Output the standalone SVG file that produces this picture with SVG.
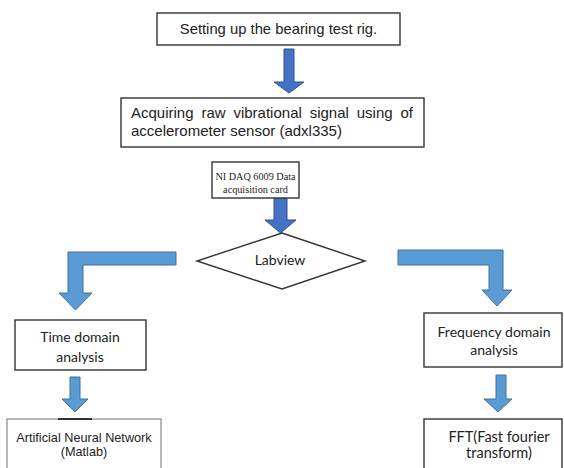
<svg xmlns="http://www.w3.org/2000/svg" width="564" height="468" viewBox="0 0 564 468">
<style>
.box{fill:#fff;stroke:#333;stroke-width:1.4}
.boxg{fill:#fff;stroke:#888;stroke-width:1.2}
.arr1{fill:#4472C4;stroke:#2F528F;stroke-width:1}
.arr2{fill:#5B9BD5;stroke:#41719C;stroke-width:1}
.arial{font-family:"Liberation Sans",Arial,sans-serif;fill:#222}
.cal{font-family:Lato,"Noto Sans",sans-serif;fill:#222}
.times{font-family:"Liberation Serif","Times New Roman",serif;fill:#222}
</style>
<rect width="564" height="468" fill="#fff"/>
<g id="connectors">
<path class="arr1" d="M284,49 H294 V82 H304 L289,93 L274,82 H284 Z"/>
<path class="arr1" d="M274,198 H287 V220 H296 L280.5,233 L265,220 H274 Z"/>
<path class="arr2" d="M176,252 V265 H83 V293 H92 L75.5,310 L59,293 H68 V252 Z"/>
<path class="arr2" d="M398,250 H503 V290 H512 L497,306 L482,290 H489 V265 H398 Z"/>
<path class="arr2" d="M70,377 H80 V399 H88 L75,412 L62,399 H70 Z"/>
<path class="arr2" d="M496,375 H506 V399 H512 L498,412 L484,399 H496 Z"/>
</g>
<g id="setup">
<rect class="box" x="157" y="13" width="243" height="32"/>
<text class="arial" x="278.5" y="34" font-size="14.8" text-anchor="middle">Setting up the bearing test rig.</text>
</g>
<g id="acquire">
<rect class="box" x="121" y="98" width="303" height="49"/>
<text class="arial" x="131" y="118" font-size="15" word-spacing="3.7">Acquiring raw vibrational signal using of</text>
<text class="arial" x="131" y="136" font-size="15">accelerometer sensor (adxl335)</text>
</g>
<g id="daq">
<rect class="box" x="212" y="162" width="87" height="36"/>
<text class="times" x="255.5" y="180" font-size="10.2" text-anchor="middle">NI DAQ 6009 Data</text>
<text class="times" x="255.5" y="193" font-size="10.2" text-anchor="middle">acquisition card</text>
</g>
<g id="labview">
<polygon class="box" points="282,233 365,261 282,289 197,261"/>
<text class="cal" x="280" y="265" font-size="14" text-anchor="middle">Labview</text>
</g>
<g id="time">
<rect class="box" x="15" y="320" width="131" height="50"/>
<text class="cal" x="80" y="342" font-size="14" text-anchor="middle">Time domain</text>
<text class="cal" x="80" y="362" font-size="14" text-anchor="middle">analysis</text>
</g>
<g id="freq">
<rect class="box" x="424" y="313" width="138" height="54"/>
<text class="cal" x="494" y="337" font-size="14" text-anchor="middle">Frequency domain</text>
<text class="cal" x="494" y="355" font-size="14" text-anchor="middle">analysis</text>
</g>
<g id="ann">
<rect class="boxg" x="7" y="419" width="154" height="55"/>
<line x1="58" y1="419" x2="92" y2="419" stroke="#333" stroke-width="2"/>
<text class="arial" x="84" y="442" font-size="12.7" text-anchor="middle">Artificial Neural Network</text>
<text class="arial" x="84" y="456" font-size="12.7" text-anchor="middle">(Matlab)</text>
</g>
<g id="fft">
<rect class="box" x="424" y="419" width="138" height="55"/>
<text class="cal" x="499" y="442" font-size="14.5" text-anchor="middle">FFT(Fast fourier</text>
<text class="cal" x="499" y="458" font-size="14.5" text-anchor="middle">transform)</text>
</g>
</svg>
